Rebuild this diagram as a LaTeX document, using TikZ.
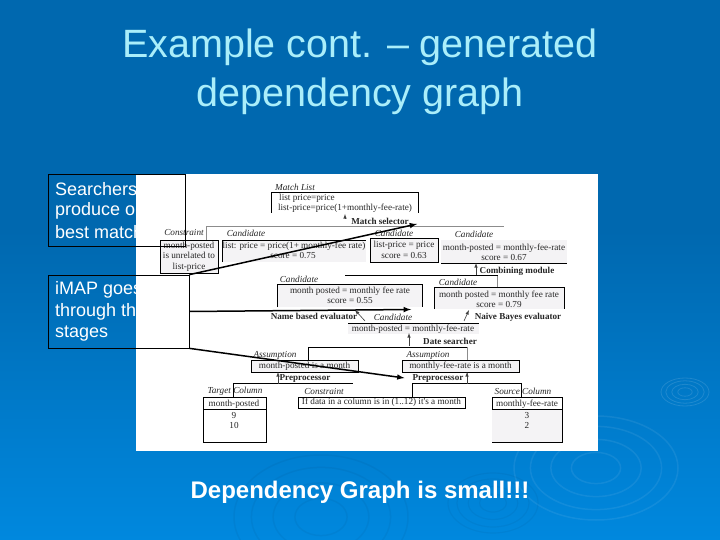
\documentclass[tikz,border=0pt]{standalone}
\usepackage{fontspec}
\setmainfont{Liberation Sans}
\newfontfamily\figfont{Liberation Serif}
\definecolor{slidetop}{RGB}{0,104,175}
\definecolor{slidebot}{RGB}{0,136,222}
\definecolor{titlecol}{RGB}{170,238,250}
\definecolor{boxfill}{RGB}{244,243,245}
\tikzset{
    fig/.style={font=\figfont\fontsize{9.2}{10.5}\selectfont, text=black!85, inner sep=0pt, align=center},
    lab/.style={fig, font=\figfont\itshape\fontsize{9.2}{10.5}\selectfont},
    mod/.style={fig, font=\figfont\bfseries\fontsize{9.1}{10.5}\selectfont},
    fbox/.style={fig, draw=black, line width=.7pt, fill=boxfill, inner sep=0pt},
    note/.style={draw=black, line width=.7pt, minimum width=0pt, inner sep=0pt},
    bullet/.style={font=\fontsize{18}{21.5}\selectfont, text=white, anchor=west, inner sep=0pt},
    rule/.style={line width=.7pt},
    grayrule/.style={line width=.6pt, draw=black!45},
    thin arrow/.style={->, line width=.6pt, black!75},
    big arrow/.style={->, line width=1.5pt, black}
}
\begin{document}
\begin{tikzpicture}[>=latex, x=1pt, y=-1pt]
\useasboundingbox (0,0) rectangle (720,540);
\clip (0,0) rectangle (720,540);
\fill[slidetop] (0,0) rectangle (720,230);
\shade[top color=slidetop, bottom color=slidebot] (0,230) rectangle (720,540);
% ripples in the background
\foreach \r in {.3,.55,.8,1}
{
    \draw[white, opacity=.07, line width=1.5pt] (596,468) ellipse ({\r*82} and {\r*52});
    \draw[black, opacity=.04, line width=1.5pt] (321,517) ellipse ({\r*87} and {\r*62});
    \draw[black, opacity=.04, line width=1.2pt] (493,503) ellipse ({\r*45} and {\r*30});
    \draw[white, opacity=.12, line width=.8pt] (685,392) ellipse ({\r*24} and {\r*14});
}
% title
\node[font=\fontsize{39.5}{49}\selectfont, text=titlecol, align=center] (title) at (360,71.5)
    {Example cont. -- generated\\dependency graph};
\node[font=\bfseries\fontsize{24}{26}\selectfont, text=white] (small) at (360,492)
    {Dependency Graph is small!!!};
% text behind the figure
\node[bullet] (s1) at (55,189) {Searchers};
\node[bullet] (s2) at (55,211) {produce o};
\node[bullet] (s3) at (55,232) {best match};
\node[bullet] (i1) at (55,290) {iMAP goes};
\node[bullet] (i2) at (55,312) {through th};
\node[bullet] (i3) at (55,334) {stages};
\fill[white] (136,174) rectangle (598,451);
% gray part of the figure
\fill[boxfill] (222,240) rectangle (366,262);
\fill[boxfill] (441,240) rectangle (567,263);
\fill[boxfill] (277,284) rectangle (422,307);
\fill[boxfill] (434,287) rectangle (564,309);
\fill[boxfill] (348,323) rectangle (479,334);
\fill[boxfill] (492,409) rectangle (562,442);
\draw[grayrule] (206,240)--(206,226)--(504,226);
\draw[grayrule] (497,275)--(497,287);
\draw[grayrule] (467,347)--(467,383);
% match list
\node[lab] (listlab) at (295,187) {Match List};
\draw[rule] (271,213)--(271,192)--(418,192)--(418,213);
\node[fig] (list1) at (307,198) {list price=price};
\node[fig] (list2) at (345,208) {list-price=price(1+monthly-fee-rate)};
\node[mod] (matchsel) at (380,221) {Match selector};
\coordinate (matchup) at (345,214);
\draw[thin arrow] (345,218)--(matchup);
% candidates from the searchers
\node[lab] (conlab) at (184,233) {Constraint};
\node[fbox, minimum width=58pt, minimum height=33pt] (con) at (189,256.5)
    {month-posted\\is unrelated to\\list-price};
\node[lab] (c1lab) at (246,233) {Candidate};
\draw[rule] (222,262)--(222,240)--(366,240);
\node[fig] (c1a) at (294,246) {list: price = price(1+ monthly-fee rate)};
\node[fig] (c1b) at (293,256) {score = 0.75};
\node[lab] (c2lab) at (394,233) {Candidate};
\node[fbox, minimum width=68pt, minimum height=24pt] (c2) at (404,250)
    {list-price = price\\score = 0.63};
\node[lab] (c3lab) at (474,234) {Candidate};
\node[fig] (c3a) at (504,248) {month-posted = monthly-fee-rate};
\node[fig] (c3b) at (504,258) {score = 0.67};
\draw[rule] (441,263)--(567,263);
\node[mod] (combine) at (517,271) {Combining module};
\draw[thin arrow] (476,275)--(476,263);
\draw[rule] (345,275)--(498,275);
% evaluators
\node[lab] (c4lab) at (299,279) {Candidate};
\draw[rule] (277,307)--(277,284)--(422,284)--(422,307);
\node[fig] (c4a) at (350,291) {month posted = monthly fee rate};
\node[fig] (c4b) at (350,301) {score = 0.55};
\node[lab] (c5lab) at (458,282) {Candidate};
\draw[rule] (434,309)--(434,287)--(564,287)--(564,309);
\node[fig] (c5a) at (499,295) {month posted = monthly fee rate};
\node[fig] (c5b) at (499,305) {score = 0.79};
\node[mod] (namebased) at (314,316) {Name based evaluator};
\node[mod] (naive) at (518,317) {Naive Bayes evaluator};
\draw[thin arrow] (365,321)--(355,310);
\draw[thin arrow] (464,321)--(469,310);
\node[lab] (c6lab) at (393,317) {Candidate};
\draw[rule] (348,323)--(479,323);
\node[fig] (c6a) at (413,329) {month-posted = monthly-fee-rate};
\node[mod] (datesearch) at (450,341) {Date searcher};
\draw[thin arrow] (409,346)--(409,333);
\draw[rule] (308,361)--(308,347)--(467,347);
% preprocessors
\node[lab] (a1lab) at (275,355) {Assumption};
\node[fbox, minimum width=107pt, minimum height=12pt] (a1) at (304.5,366) {month-posted is a month};
\node[lab] (a2lab) at (428,355) {Assumption};
\node[fbox, minimum width=117pt, minimum height=12pt] (a2) at (460.5,366) {monthly-fee-rate is a month};
\node[mod, inner sep=4pt] (pre1) at (305,378) {Preprocessor};
\node[mod, inner sep=8pt] (pre2) at (438,378) {Preprocessor};
\draw[rule] (233,397)--(233,383)--(353,383);
\draw[rule] (412,397)--(412,383)--(521,383)--(521,397);
\draw[thin arrow] (278,384)--(278,372);
\draw[thin arrow] (467,384)--(467,372);
% columns and constraint
\node[lab] (tarlab) at (235,391) {Target Column};
\draw[rule] (203,397) rectangle (266,442);
\draw[rule] (203,409)--(266,409);
\node[fig] (tarname) at (234,404) {month-posted};
\node[fig] (tar1) at (234,415) {9};
\node[fig] (tar2) at (234,425) {10};
\node[lab] (conslab) at (324,391) {Constraint};
\node[fbox, fill=white, minimum width=167pt, minimum height=11pt] (cons) at (381.5,402.5)
    {If data in a column is in (1..12) it's a month};
\node[lab] (srclab) at (523,391) {Source Column};
\draw[rule] (492,409)--(492,397)--(562,397)--(562,442)--(492,442);
\draw[rule] (492,409)--(562,409);
\node[fig] (srcname) at (527,404) {monthly-fee-rate};
\node[fig] (src1) at (527,415) {3};
\node[fig] (src2) at (527,425) {2};
% the two text boxes and their arrows
\node[note, minimum width=137pt, minimum height=72pt] (searchers) at (116.5,210) {};
\node[note, minimum width=141pt, minimum height=73pt] (imap) at (118.5,311.5) {};
\coordinate (toselect) at (417,224);
\coordinate (toeval) at (411,309.5);
\draw[big arrow] (imap.north east)--(toselect);
\draw[big arrow] (imap.east)--(toeval);
\draw[big arrow] (imap.south east)--(pre2.west);
\end{tikzpicture}
\end{document}
